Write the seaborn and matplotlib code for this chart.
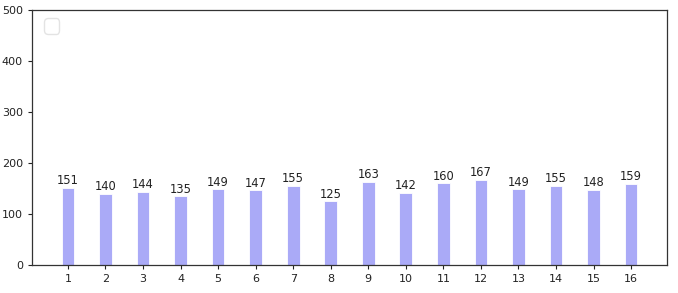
import matplotlib
matplotlib.use("Agg")
import matplotlib.pyplot as plt
import seaborn as sns
import pandas as pd

x_vals = list(range(1, 17))
counts = [151, 140, 144, 135, 149, 147, 155, 125, 163, 142, 160, 167, 149, 155, 148, 159]

df = pd.DataFrame({"x": x_vals, "count": counts})

fig = plt.figure(figsize=(6.78, 2.93), dpi=100)
ax = fig.add_axes([0.047, 0.0956, 0.937, 0.870])

sns.barplot(data=df, x="x", y="count", native_scale=True, width=0.34,
            color=(0.667, 0.667, 0.97), saturation=1, edgecolor="white",
            linewidth=0.6, ax=ax)

for xv, c in zip(x_vals, counts):
    ax.text(xv, c + 1, str(c), ha="center", va="bottom", fontsize=8.3, color="#222222")

ax.set_xlim(0.04, 16.96)
ax.set_ylim(0, 500)
ax.set_xticks(x_vals)
ax.set_xticklabels([str(v) for v in x_vals])
ax.set_yticks([0, 100, 200, 300, 400, 500])
ax.tick_params(labelsize=8, colors="#222222", length=3)
ax.set_xlabel("")
ax.set_ylabel("")
for s in ax.spines.values():
    s.set_color("#333333")
    s.set_linewidth(0.9)
leg = ax.legend(handles=[], loc="upper left", fontsize=14, borderaxespad=0,
                bbox_to_anchor=(0.019, 0.969))
leg.get_frame().set_edgecolor("#dddddd")

fig.savefig("out.png", dpi=100)
